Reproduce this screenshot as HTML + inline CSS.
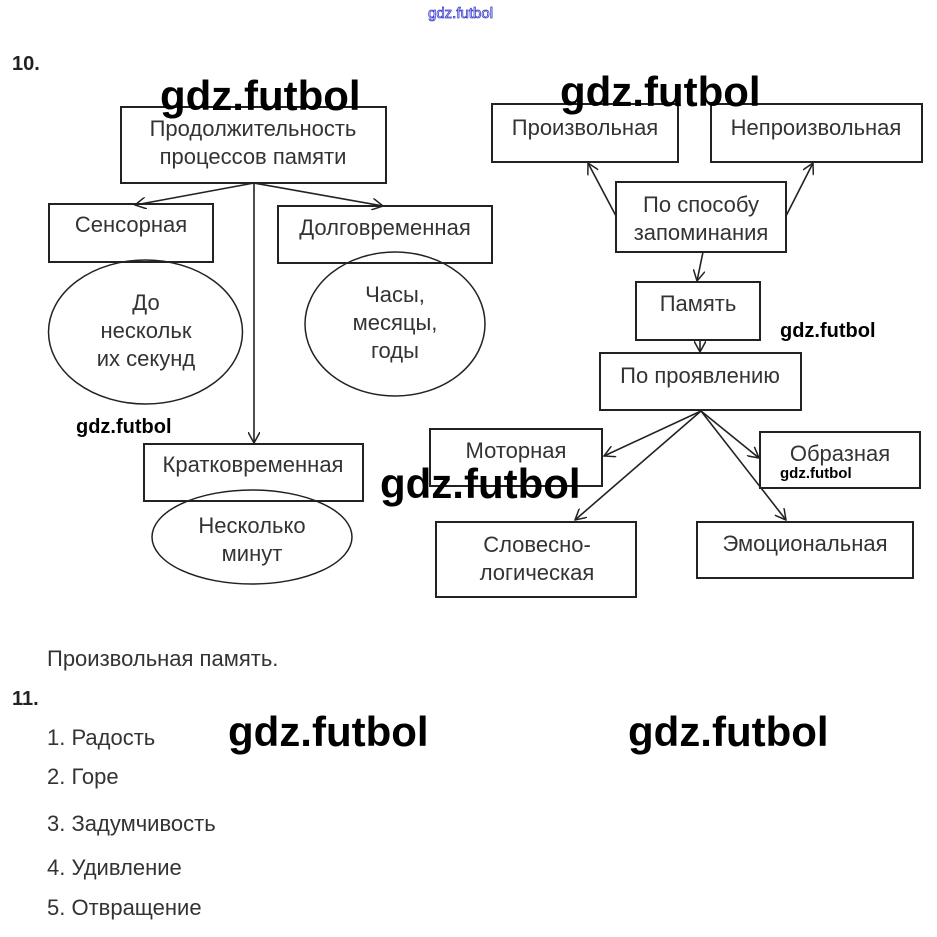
<!DOCTYPE html>
<html><head><meta charset="utf-8"><style>
html,body{margin:0;padding:0;background:#fff;}
body{width:937px;height:932px;overflow:hidden;}
</style></head><body>
<svg width="937" height="932" xmlns="http://www.w3.org/2000/svg" font-family="Liberation Sans, sans-serif">
<defs>
<marker id="a" viewBox="0 0 12 12" refX="11" refY="6" markerWidth="12" markerHeight="12" markerUnits="userSpaceOnUse" orient="auto">
<path d="M0,0 L11,6 L0,12" fill="none" stroke="#222" stroke-width="1.5"/>
</marker>
</defs>
<g fill="none" stroke="#222" stroke-width="2">
<rect x="121" y="107" width="265" height="76"/>
<rect x="49" y="204" width="164" height="58"/>
<rect x="278" y="206" width="214" height="57"/>
<ellipse cx="145.5" cy="332" rx="97" ry="72" stroke-width="1.5"/>
<ellipse cx="395" cy="324" rx="90" ry="72" stroke-width="1.5"/>
<rect x="144" y="444" width="219" height="57"/>
<ellipse cx="252" cy="537" rx="100" ry="47" stroke-width="1.5"/>
<rect x="492" y="104" width="186" height="58"/>
<rect x="711" y="104" width="211" height="58"/>
<rect x="616" y="182" width="170" height="70"/>
<rect x="636" y="282" width="124" height="58"/>
<rect x="600" y="353" width="201" height="57"/>
<rect x="430" y="429" width="172" height="57"/>
<rect x="760" y="432" width="160" height="56"/>
<rect x="436" y="522" width="200" height="75"/>
<rect x="697" y="522" width="216" height="56"/>
</g>
<g stroke="#222" stroke-width="1.6" fill="none" marker-end="url(#a)">
<line x1="254" y1="183" x2="135" y2="205"/>
<line x1="254" y1="183" x2="383" y2="206"/>
<line x1="254" y1="183" x2="254" y2="443"/>
<line x1="616" y1="216" x2="588" y2="163"/>
<line x1="786" y1="216" x2="813" y2="163"/>
<line x1="703" y1="252" x2="697" y2="281"/>
<line x1="700" y1="340" x2="700" y2="352"/>
<line x1="701" y1="411" x2="604" y2="456"/>
<line x1="701" y1="411" x2="575" y2="520"/>
<line x1="701" y1="411" x2="759" y2="458"/>
<line x1="701" y1="411" x2="786" y2="520"/>
</g>
<g fill="#333" font-size="22" text-anchor="middle">
<text x="253" y="136">Продолжительность</text>
<text x="253" y="164">процессов памяти</text>
<text x="131" y="232">Сенсорная</text>
<text x="385" y="235">Долговременная</text>
<text x="146" y="310">До</text>
<text x="146" y="338">нескольк</text>
<text x="146" y="366">их секунд</text>
<text x="395" y="302">Часы,</text>
<text x="395" y="330">месяцы,</text>
<text x="395" y="358">годы</text>
<text x="253" y="472">Кратковременная</text>
<text x="252" y="533">Несколько</text>
<text x="252" y="561">минут</text>
<text x="585" y="135">Произвольная</text>
<text x="816" y="135">Непроизвольная</text>
<text x="701" y="212">По способу</text>
<text x="701" y="240">запоминания</text>
<text x="698" y="311">Память</text>
<text x="700" y="383">По проявлению</text>
<text x="516" y="458">Моторная</text>
<text x="840" y="461">Образная</text>
<text x="537" y="552">Словесно-</text>
<text x="537" y="580">логическая</text>
<text x="805" y="551">Эмоциональная</text>
</g>
<g fill="#333" font-size="22">
<text x="47" y="666">Произвольная память.</text>
<text x="47" y="745">1. Радость</text>
<text x="47" y="784">2. Горе</text>
<text x="47" y="831">3. Задумчивость</text>
<text x="47" y="875">4. Удивление</text>
<text x="47" y="915">5. Отвращение</text>
</g>
<g fill="#222" font-weight="bold" font-size="20">
<text x="12" y="70">10.</text>
<text x="12" y="705">11.</text>
</g>
<g fill="#000" font-weight="bold">
<text x="160" y="110" font-size="42">gdz.futbol</text>
<text x="560" y="106" font-size="42">gdz.futbol</text>
<text x="380" y="498" font-size="42">gdz.futbol</text>
<text x="228" y="746" font-size="42">gdz.futbol</text>
<text x="628" y="746" font-size="42">gdz.futbol</text>
<text x="780" y="337" font-size="20">gdz.futbol</text>
<text x="76" y="433" font-size="20">gdz.futbol</text>
<text x="780" y="478" font-size="15">gdz.futbol</text>
</g>
<text x="428" y="18" font-size="15" fill="#fff" stroke="#3a3acc" stroke-width="0.8">gdz.futbol</text>
</svg>
</body></html>
